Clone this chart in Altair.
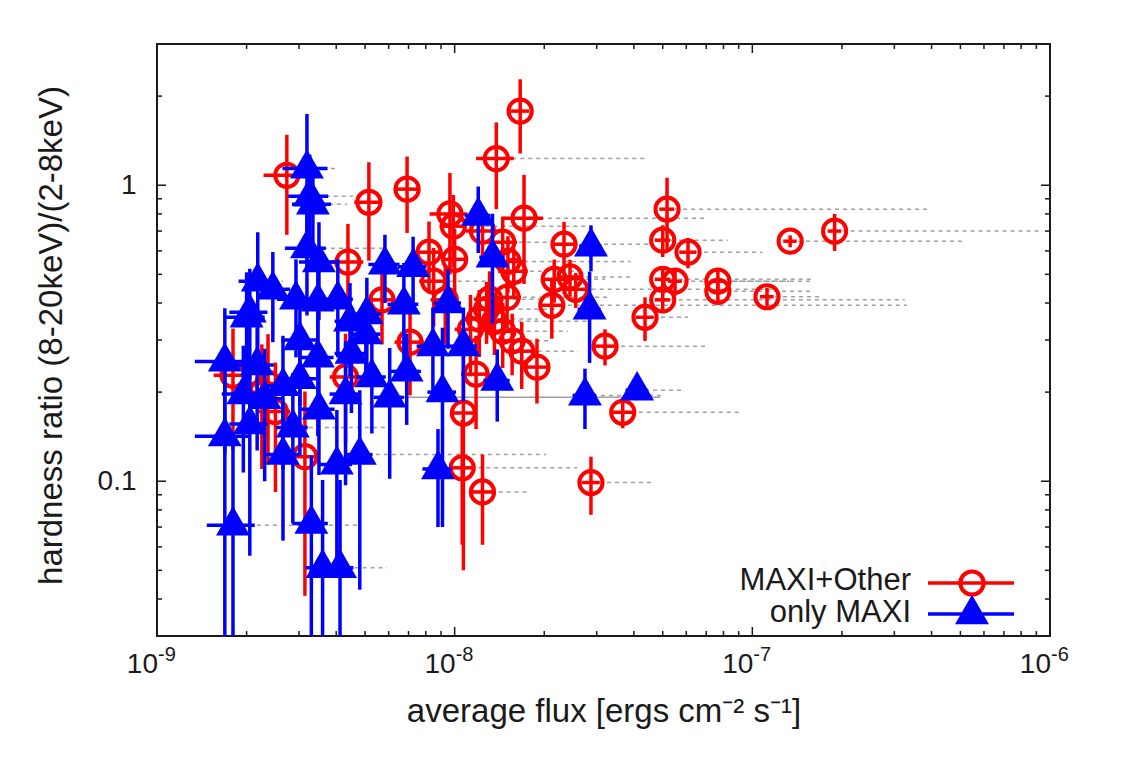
import altair as alt
import numpy as np
import pandas as pd

# ---------------- data ----------------
# MAXI+Other (red circles)
red_flux = [2.73e-9, 5.15e-9, 6.92e-9, 9.64e-9, 9.9e-9, 1.38e-8, 1.66e-8, 1.71e-8, 2.33e-8, 5.17e-8,
            5.0e-8, 6.08e-8, 5.0e-8, 5.5e-8, 5.0e-8, 4.36e-8, 7.66e-8, 7.66e-8, 1.12e-7, 1.34e-7,
            1.89e-7, 2.16e-8, 2.12e-8, 2.44e-8, 2.55e-8, 3.2e-8, 3.67e-8, 2.87e-8, 1.06e-8, 1.24e-8,
            1.07e-8, 3.14e-9, 1.8e-9, 2.36e-9, 2.5e-9, 7.08e-9, 8.2e-9, 1.0e-8, 4.38e-9, 1.24e-8,
            1.51e-8, 1.58e-8, 1.31e-8, 1.5e-8, 1.28e-8, 1.21e-8, 1.36e-8, 1.45e-8, 1.56e-8, 1.68e-8,
            1.89e-8, 1.13e-8, 1.45e-8, 8.5e-9, 9.3e-9, 2.25e-9, 5.7e-9, 4.3e-9, 1.18e-8]
red_ratio = [1.08, 0.876, 0.97, 0.80, 0.727, 1.23, 1.78, 0.774, 0.632, 0.83,
             0.652, 0.594, 0.481, 0.474, 0.41, 0.358, 0.474, 0.438, 0.42, 0.647,
             0.70, 0.481, 0.393, 0.49, 0.445, 0.286, 0.171, 0.099, 0.111, 0.092,
             0.17, 0.121, 0.228, 0.214, 0.172, 0.295, 0.594, 0.562, 0.55, 0.70,
             0.553, 0.512, 0.412, 0.418, 0.381, 0.353, 0.347, 0.321, 0.298, 0.275,
             0.243, 0.326, 0.642, 0.474, 0.41, 0.20, 0.41, 0.225, 0.23]
red_ratio_err = [0.40, 0.32, 0.28, 0.30, 0.20, 0.40, 0.50, 0.31, 0.12, 0.23,
                 0.08, 0.07, 0.05, 0.05, 0.04, 0.06, 0.04, 0.04, 0.03, 0.03,
                 0.10, 0.08, 0.09, 0.07, 0.06, 0.04, 0.02, 0.022, 0.05, 0.031,
                 0.12, 0.08, 0.10, 0.10, 0.08, 0.10, 0.16, 0.15, 0.19, 0.15,
                 0.12, 0.10, 0.10, 0.09, 0.09, 0.09, 0.08, 0.08, 0.07, 0.07,
                 0.06, 0.10, 0.14, 0.14, 0.12, 0.09, 0.12, 0.09, 0.08]
red_flux_err = [0.45e-9, 0.55e-9, 0.6e-9, 1.4e-9, 1.0e-9, 2.0e-9, 1.2e-9, 2.7e-9, 2.0e-9, 3.0e-9,
                3.0e-9, 4.0e-9, 3.0e-9, 3.0e-9, 3.0e-9, 3.0e-9, 4.0e-9, 4.0e-9, 6.0e-9, 7.0e-9,
                1.0e-8, 2.0e-9, 2.0e-9, 2.0e-9, 2.0e-9, 2.5e-9, 3.0e-9, 2.0e-9, 1.0e-9, 1.0e-9,
                1.0e-9, 0.3e-9, 0.25e-9, 0.3e-9, 0.3e-9, 0.8e-9, 0.9e-9, 1.0e-9, 0.55e-9, 1.5e-9,
                1.8e-9, 1.8e-9, 1.5e-9, 1.7e-9, 1.5e-9, 1.4e-9, 1.5e-9, 1.6e-9, 1.8e-9, 1.9e-9,
                2.0e-9, 1.3e-9, 1.7e-9, 0.9e-9, 1.0e-9, 0.25e-9, 0.6e-9, 0.5e-9, 1.3e-9]
red_flux_max = [2.73e-9, 5.15e-9, 7.6e-9, 9.64e-9, 2.78e-8, 4.36e-8, 1.66e-8, 7.04e-8, 4.53e-8, 3.86e-7,
                8.28e-8, 1.08e-7, 1.6e-7, 1.33e-7, 3.25e-7, 6.08e-8, 1.6e-7, 1.6e-7, 1.71e-7, 5.06e-7,
                9.46e-7, 3.2e-8, 3.3e-7, 4.0e-8, 1.2e-7, 7.0e-8, 9.23e-8, 4.63e-8, 2.58e-8, 1.75e-8,
                1.07e-8, 3.14e-9, 1.8e-9, 2.36e-9, 2.5e-9, 7.08e-9, 8.2e-9, 1.0e-8, 4.38e-9, 1.24e-8,
                3.9e-8, 2.6e-8, 2.0e-8, 3.3e-8, 2.2e-8, 1.9e-8, 2.8e-8, 2.4e-8, 2.1e-8, 2.6e-8,
                1.89e-8, 1.13e-8, 2.1e-8, 1.31e-8, 9.3e-9, 2.25e-9, 5.7e-9, 4.3e-9, 1.18e-8]

# only MAXI (blue triangles)
blue_flux = [3.19e-9, 3.26e-9, 3.34e-9, 3.19e-9, 3.5e-9, 2.18e-9, 2.0e-9, 2.45e-9, 5.83e-9, 7.25e-9,
             6.75e-9, 1.2e-8, 1.34e-8, 2.87e-8, 2.84e-8, 4.1e-8, 2.74e-8, 1.39e-8, 8.79e-9, 9.1e-9,
             8.45e-9, 1.07e-8, 1.69e-9, 2.17e-9, 2.05e-9, 1.69e-9, 2.05e-9, 2.65e-9, 2.86e-9, 2.65e-9,
             4.02e-9, 4.8e-9, 6.05e-9, 6.9e-9, 1.8e-9, 3.3e-9, 3.6e-9, 4.12e-9, 4.05e-9, 4.45e-9,
             5.03e-9, 4.5e-9, 3.47e-9, 2.93e-9, 3.02e-9, 3.47e-9, 5.27e-9, 3.02e-9, 2.3e-9, 1.95e-9,
             3.5e-9, 4.3e-9, 5.07e-9, 9.5e-9]
blue_ratio = [1.14, 0.918, 0.862, 0.613, 0.55, 0.474, 0.358, 0.445, 0.54, 0.53,
              0.396, 0.79, 0.571, 0.622, 0.381, 0.203, 0.195, 0.219, 0.11, 0.20,
              0.286, 0.286, 0.254, 0.247, 0.372, 0.142, 0.156, 0.21, 0.152, 0.123,
              0.114, 0.123, 0.192, 0.235, 0.071, 0.072, 0.051, 0.051, 0.412, 0.347,
              0.314, 0.27, 0.405, 0.412, 0.30, 0.262, 0.225, 0.222, 0.19, 0.197,
              0.175, 0.197, 0.367, 0.40]
blue_ratio_err = [0.60, 0.35, 0.30, 0.25, 0.20, 0.22, 0.15, 0.15, 0.14, 0.14,
                  0.15, 0.20, 0.23, 0.11, 0.13, 0.015, 0.045, 0.06, 0.04, 0.13,
                  0.10, 0.10, 0.13, 0.12, 0.15, 0.12, 0.10, 0.10, 0.08, 0.06,
                  0.06, 0.08, 0.09, 0.08, 0.07, 0.05, 0.05, 0.05, 0.15, 0.12,
                  0.10, 0.10, 0.15, 0.15, 0.12, 0.12, 0.08, 0.10, 0.09, 0.09,
                  0.07, 0.10, 0.12, 0.12]
blue_flux_err = [0.55e-9, 0.5e-9, 0.5e-9, 0.5e-9, 0.5e-9, 0.3e-9, 0.3e-9, 0.35e-9, 0.7e-9, 0.8e-9,
                 0.8e-9, 1.2e-9, 1.3e-9, 2.5e-9, 2.5e-9, 3.5e-9, 2.5e-9, 1.4e-9, 1.0e-9, 1.0e-9,
                 1.0e-9, 1.2e-9, 0.35e-9, 0.3e-9, 0.3e-9, 0.35e-9, 0.3e-9, 0.35e-9, 0.35e-9, 0.35e-9,
                 0.5e-9, 0.5e-9, 0.7e-9, 0.8e-9, 0.33e-9, 0.45e-9, 0.45e-9, 0.45e-9, 0.5e-9, 0.5e-9,
                 0.6e-9, 0.55e-9, 0.45e-9, 0.4e-9, 0.4e-9, 0.45e-9, 0.6e-9, 0.4e-9, 0.35e-9, 0.3e-9,
                 0.45e-9, 0.5e-9, 0.6e-9, 1.0e-9]
blue_flux_max = [4.02e-9, 4.55e-9, 4.35e-9, 5.74e-9, 3.5e-9, 2.65e-9, 2.0e-9, 2.45e-9, 5.83e-9, 7.25e-9,
                 6.75e-9, 1.2e-8, 1.34e-8, 2.87e-8, 2.84e-8, 5.85e-8, 5.09e-8, 1.39e-8, 8.79e-9, 9.1e-9,
                 8.45e-9, 1.07e-8, 1.69e-9, 2.17e-9, 2.05e-9, 1.69e-9, 2.05e-9, 2.65e-9, 6.06e-9, 2.65e-9,
                 4.02e-9, 2.03e-8, 6.05e-9, 6.9e-9, 4.81e-9, 3.3e-9, 5.93e-9, 4.12e-9, 4.05e-9, 4.45e-9,
                 5.03e-9, 4.5e-9, 3.47e-9, 2.93e-9, 3.02e-9, 3.47e-9, 5.27e-9, 3.02e-9, 2.3e-9, 1.95e-9,
                 3.5e-9, 4.3e-9, 5.07e-9, 9.5e-9]

# one peak-flux segment drawn solid in the reference
solid_flux = [6.05e-9]
solid_ratio = [0.192]
solid_flux_max = [4.9e-8]

# axes
x_domain = [1e-9, 1e-6]
y_domain = [0.03, 3.0]
x_major = [1e-9, 1e-8, 1e-7, 1e-6]
x_tick_base = ["10", "10", "10", "10"]
x_tick_exp = ["-9", "-8", "-7", "-6"]
x_minor = [m * d for d in (1e-9, 1e-8, 1e-7) for m in (2, 3, 4, 5, 6, 7, 8, 9)]
y_major = [0.1, 1.0]
y_tick_labels = ["0.1", "1"]
y_minor = [0.04, 0.05, 0.06, 0.07, 0.08, 0.09, 0.2, 0.3, 0.4, 0.5, 0.6, 0.7, 0.8, 0.9, 2.0]
legend_labels = ["MAXI+Other", "only MAXI"]
x_title = "average flux [ergs cm⁻² s⁻¹]"
y_title = "hardness ratio (8-20keV)/(2-8keV)"

# ---------------- styling ----------------
FONT = "Liberation Sans"
W, H = 893, 592
RED, BLUE, GRAY, INK = "#ff0000", "#0000ff", "#a0a0a0", "#1a1a1a"


def frame(flux, ratio, rerr, ferr, fmax):
    df = pd.DataFrame({"flux": flux, "ratio": ratio, "rerr": rerr, "ferr": ferr, "fmax": fmax})
    df["rlo"] = np.maximum(df["ratio"] - df["rerr"], 0.005)
    df["rhi"] = df["ratio"] + df["rerr"]
    df["flo"] = df["flux"] - df["ferr"]
    df["fhi"] = df["flux"] + df["ferr"]
    return df


red = frame(red_flux, red_ratio, red_ratio_err, red_flux_err, red_flux_max)
blue = frame(blue_flux, blue_ratio, blue_ratio_err, blue_flux_err, blue_flux_max)
peaks = pd.concat([red[["flux", "ratio", "fmax"]], blue[["flux", "ratio", "fmax"]]])
peaks = peaks[peaks["fmax"] > peaks["flux"]]
solid = pd.DataFrame({"flux": solid_flux, "ratio": solid_ratio, "fmax": solid_flux_max})
xlab = pd.DataFrame({"v": x_major, "base": x_tick_base, "exp": x_tick_exp})

xs = alt.Scale(type="log", domain=x_domain, nice=False)
ys = alt.Scale(type="log", domain=y_domain, nice=False)

y_label_expr = f"datum.value < 0.3 ? '{y_tick_labels[0]}' : '{y_tick_labels[1]}'"

x_axis = alt.Axis(values=x_major, labels=False, ticks=False, tickSize=0, domain=False,
                  grid=False, title=x_title, titleFontSize=33, titleX=W / 2, titleY=85,
                  titleAlign="center", titleBaseline="alphabetic")
y_axis = alt.Axis(values=y_major, labelExpr=y_label_expr, ticks=False, tickSize=0, domain=False,
                  grid=False, labelFlush=False, labelOverlap=False, labelPadding=21,
                  labelFontSize=28, title=y_title, titleFontSize=33, titleX=-96, titleY=H / 2 - 5,
                  titleAngle=270, titleAlign="center", titleBaseline="alphabetic")


def X(field):
    return alt.X(f"{field}:Q", scale=xs, axis=x_axis)


def Y(field):
    return alt.Y(f"{field}:Q", scale=ys, axis=y_axis)


layers = []
layers.append(
    alt.Chart(peaks).mark_rule(color=GRAY, strokeWidth=1.5, strokeDash=[4, 4], clip=True).encode(
        x=X("flux"), x2="fmax:Q", y=Y("ratio"))
)
layers.append(
    alt.Chart(solid).mark_rule(color=GRAY, strokeWidth=1.5, clip=True).encode(
        x=X("flux"), x2="fmax:Q", y=Y("ratio"))
)
# red
layers.append(alt.Chart(red).mark_rule(color=RED, strokeWidth=3.5, clip=True).encode(
    x=X("flux"), y=Y("rlo"), y2="rhi:Q"))
layers.append(alt.Chart(red).mark_rule(color=RED, strokeWidth=3.5, clip=True).encode(
    x=X("flo"), x2="fhi:Q", y=Y("ratio")))
layers.append(alt.Chart(red).mark_point(shape="circle", filled=False, color=RED, size=540,
                                        strokeWidth=4, opacity=1, clip=True).encode(
    x=X("flux"), y=Y("ratio")))
# blue
layers.append(alt.Chart(blue).mark_rule(color=BLUE, strokeWidth=3.5, clip=True).encode(
    x=X("flux"), y=Y("rlo"), y2="rhi:Q"))
layers.append(alt.Chart(blue).mark_rule(color=BLUE, strokeWidth=3.5, clip=True).encode(
    x=X("flo"), x2="fhi:Q", y=Y("ratio")))
layers.append(alt.Chart(blue).mark_point(shape="triangle-up", filled=True, color=BLUE, size=1150,
                                         strokeWidth=0, opacity=1, yOffset=-4.5, clip=True).encode(
    x=X("flux"), y=Y("ratio")))


# inward ticks on all four sides
def ticks(values, length, side):
    df = pd.DataFrame({"v": values})
    m = alt.Chart(df).mark_rule(color=INK, strokeWidth=1.5)
    if side == "bottom":
        return m.encode(x=X("v"), y=alt.value(H), y2=alt.value(H - length))
    if side == "top":
        return m.encode(x=X("v"), y=alt.value(0), y2=alt.value(length))
    if side == "left":
        return m.encode(y=Y("v"), x=alt.value(0), x2=alt.value(length))
    return m.encode(y=Y("v"), x=alt.value(W - length), x2=alt.value(W))


for side in ("bottom", "top"):
    layers.append(ticks(x_major, 9, side))
    layers.append(ticks(x_minor, 5, side))
for side in ("left", "right"):
    layers.append(ticks(y_major, 9, side))
    layers.append(ticks(y_minor, 5, side))

# x tick labels: "10" with a raised exponent
layers.append(alt.Chart(xlab).mark_text(align="right", baseline="alphabetic", fontSize=28,
                                        font=FONT, color=INK, dx=1).encode(
    x=X("v"), y=alt.value(H + 37), text="base:N"))
layers.append(alt.Chart(xlab).mark_text(align="left", baseline="alphabetic", fontSize=20,
                                        font=FONT, color=INK, dx=1).encode(
    x=X("v"), y=alt.value(H + 25), text="exp:N"))

# legend (inside, bottom right)
leg_red = pd.DataFrame({"label": [legend_labels[0]]})
leg_blue = pd.DataFrame({"label": [legend_labels[1]]})
layers.append(alt.Chart(leg_red).mark_text(align="right", baseline="alphabetic", fontSize=31,
                                           font=FONT, color=INK).encode(
    text="label:N", x=alt.value(754), y=alt.value(546)))
layers.append(alt.Chart(leg_blue).mark_text(align="right", baseline="alphabetic", fontSize=31,
                                            font=FONT, color=INK).encode(
    text="label:N", x=alt.value(754), y=alt.value(578)))
layers.append(alt.Chart(leg_red).mark_rule(color=RED, strokeWidth=3.5).encode(
    x=alt.value(771), x2=alt.value(857), y=alt.value(539)))
layers.append(alt.Chart(leg_red).mark_point(shape="circle", filled=False, color=RED, size=540,
                                            strokeWidth=4, opacity=1).encode(
    x=alt.value(815), y=alt.value(539)))
layers.append(alt.Chart(leg_blue).mark_rule(color=BLUE, strokeWidth=3.5).encode(
    x=alt.value(771), x2=alt.value(857), y=alt.value(570)))
layers.append(alt.Chart(leg_blue).mark_point(shape="triangle-up", filled=True, color=BLUE,
                                             size=1150, strokeWidth=0, opacity=1,
                                             yOffset=-4.5).encode(
    x=alt.value(815), y=alt.value(570)))

chart = alt.layer(*layers).properties(
    width=W, height=H,
    autosize=alt.AutoSizeParams(type="none"),
    padding={"left": 149, "top": 36, "right": 74, "bottom": 106},
).configure_view(stroke=INK, strokeWidth=2).configure_axis(
    labelFont=FONT, titleFont=FONT, labelColor=INK, titleColor=INK, titleFontWeight="normal"
)

chart.save("out.html", embed_options={"renderer": "svg", "actions": False})
